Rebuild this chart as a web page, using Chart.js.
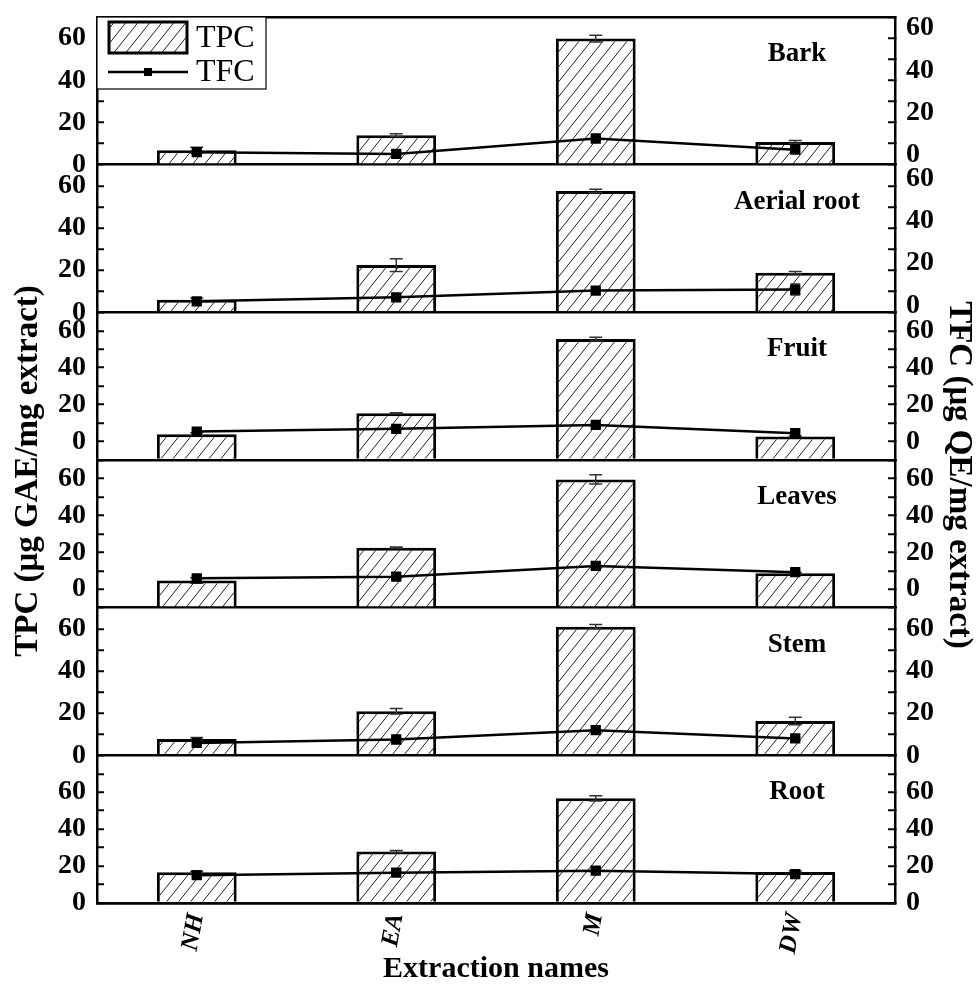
<!DOCTYPE html>
<html>
<head>
<meta charset="utf-8">
<script src="https://cdn.jsdelivr.net/npm/chart.js@4.4.1/dist/chart.umd.min.js"></script>
<style>
  html, body { margin: 0; padding: 0; background: #fff; }
  #wrap { position: relative; width: 976px; height: 984px; }
</style>
</head>
<body>
<div id="wrap"><canvas id="chart" width="976" height="984"></canvas></div>
<script>
// categories and panels (top to bottom)
const categories = ['NH', 'EA', 'M', 'DW'];
const panelNames = ['Bark', 'Aerial root', 'Fruit', 'Leaves', 'Stem', 'Root'];

// TPC, left axis (µg GAE/mg extract)
const tpcBark   = [6.8, 14.0, 59.8, 10.8];
const tpcAerial = [6.0, 22.4, 57.5, 18.8];
const tpcFruit  = [4.0, 15.3, 55.5, 2.7];
const tpcLeaves = [4.7, 22.5, 59.5, 8.6];
const tpcStem   = [7.7, 20.9, 61.0, 16.3];
const tpcRoot   = [16.6, 27.9, 56.7, 16.8];

const tpcErrBark   = [1.4, 0.6, 1.6, 0.6];
const tpcErrAerial = [0.8, 3.0, 0.8, 0.5];
const tpcErrFruit  = [0.8, 0.3, 1.0, 0.3];
const tpcErrLeaves = [1.5, 0.3, 2.5, 0.5];
const tpcErrStem   = [0.8, 1.3, 1.0, 1.8];
const tpcErrRoot   = [0.6, 0.5, 1.4, 0.6];

// TFC, right axis (µg QE/mg extract)
const tfcBark   = [5.9, 5.1, 12.4, 7.1];
const tfcAerial = [5.2, 7.1, 10.3, 10.8];
const tfcFruit  = [5.4, 6.9, 9.0, 4.5];
const tfcLeaves = [5.9, 6.8, 12.6, 9.2];
const tfcStem   = [5.9, 7.5, 11.9, 8.0];
const tfcRoot   = [15.1, 16.4, 17.5, 15.7];

const tfcErrBark   = [0.8, 0.5, 0.8, 0.8];
const tfcErrAerial = [0.7, 0.6, 0.8, 2.6];
const tfcErrFruit  = [0.7, 0.5, 0.8, 0.8];
const tfcErrLeaves = [1.2, 0.5, 1.0, 0.8];
const tfcErrStem   = [1.0, 0.8, 0.8, 0.8];
const tfcErrRoot   = [0.6, 0.6, 0.8, 1.0];

// axis ranges per panel and labelled tick values
const axisMin = [0, 0, -10, -10, 0, 0];
const axisMax = [70, 70, 70, 70, 70, 80];
const tickLabels = [0, 20, 40, 60];

const tpcValues = [tpcBark, tpcAerial, tpcFruit, tpcLeaves, tpcStem, tpcRoot];
const tpcErrors = [tpcErrBark, tpcErrAerial, tpcErrFruit, tpcErrLeaves, tpcErrStem, tpcErrRoot];
const tfcValues = [tfcBark, tfcAerial, tfcFruit, tfcLeaves, tfcStem, tfcRoot];
const tfcErrors = [tfcErrBark, tfcErrAerial, tfcErrFruit, tfcErrLeaves, tfcErrStem, tfcErrRoot];

const serif = "'Liberation Serif', 'Times New Roman', serif";
// right-hand labels sit a little above their ticks in the top two panels
const rightLabelShift = [-10, -7, 0, 0, 0, 0];

const canvas = document.getElementById('chart');
const ctx = canvas.getContext('2d');

function makeHatch() {
    const w = 12, h = 15;
    const tile = document.createElement('canvas');
    tile.width = w;
    tile.height = h;
    const g = tile.getContext('2d');
    g.fillStyle = '#fff';
    g.fillRect(0, 0, w, h);
    g.strokeStyle = '#222';
    g.lineWidth = 1;
    g.beginPath();
    [-w, 0, w].forEach(dx => {
        g.moveTo(dx, h);
        g.lineTo(dx + w, 0);
    });
    g.stroke();
    return ctx.createPattern(tile, 'repeat');
}
const hatch = makeHatch();

// datasets
const datasets = [];
panelNames.forEach((name, i) => {
    datasets.push({
        type: 'bar',
        label: 'TPC ' + name,
        data: tpcValues[i],
        yAxisID: 'L' + i,
        grouped: false,
        base: axisMin[i],
        backgroundColor: hatch,
        borderColor: '#000',
        borderWidth: 3,
        borderSkipped: 'start',
        barPercentage: 0.4,
        categoryPercentage: 1.0,
        order: 2,
        panel: i
    });
});
panelNames.forEach((name, i) => {
    datasets.push({
        type: 'line',
        label: 'TFC ' + name,
        data: tfcValues[i],
        yAxisID: 'R' + i,
        borderColor: '#000',
        borderWidth: 2.5,
        tension: 0,
        fill: false,
        pointStyle: 'rect',
        pointRadius: 5.5,
        pointBackgroundColor: '#000',
        pointBorderColor: '#000',
        order: 0,
        panel: i
    });
});

// scales
function yScale(i, side) {
    const left = side === 'left';
    return {
        type: 'linear',
        position: side,
        stack: side,
        stackWeight: 1,
        min: axisMin[i],
        max: axisMax[i],
        border: { display: true, color: '#000', width: 2.5 },
        grid: {
            drawOnChartArea: left,
            drawTicks: true,
            tickLength: -7,
            tickColor: '#000',
            tickWidth: 2,
            lineWidth: 2.5,
            color: c => {
                if (!left || !c.tick) return 'rgba(0,0,0,0)';
                const v = c.tick.value;
                if (v === axisMin[i]) return '#000';
                if (i === 0 && v === axisMax[i]) return '#000';
                return 'rgba(0,0,0,0)';
            }
        },
        ticks: {
            stepSize: 10,
            autoSkip: false,
            color: '#000',
            padding: 18,
            labelOffset: left ? 0 : rightLabelShift[i],
            font: { family: serif, size: 28, weight: 'bold' },
            callback: v => tickLabels.includes(v) ? String(v) : ''
        },
        afterFit: s => {
            s.width = left ? 97 : 81;
            s.paddingTop = 0;
            s.paddingBottom = 0;
        }
    };
}

const scales = {
    x: {
        type: 'category',
        offset: true,
        border: { display: true, color: '#000', width: 2.5 },
        grid: { display: false, drawTicks: false },
        ticks: {
            color: '#000',
            padding: 8,
            minRotation: 80,
            maxRotation: 80,
            font: { family: serif, size: 25, weight: 'bold', style: 'italic' }
        },
        title: {
            display: true,
            text: 'Extraction names',
            color: '#000',
            padding: { top: 0, bottom: 0 },
            font: { family: serif, size: 30, weight: 'bold', lineHeight: 1 }
        },
        afterFit: s => {
            s.height = 81;
            s.paddingLeft = 0;
            s.paddingRight = 0;
        }
    }
};
// left boxes are laid out in reverse order, so add them bottom panel first
for (let i = panelNames.length - 1; i >= 0; i--) scales['L' + i] = yScale(i, 'left');
for (let i = 0; i < panelNames.length; i++) scales['R' + i] = yScale(i, 'right');

function drawErrorBars(chart, datasetIndex, values, errors, scaleId, cap) {
    const meta = chart.getDatasetMeta(datasetIndex);
    const scale = chart.scales[scaleId];
    const c = chart.ctx;
    c.save();
    c.strokeStyle = '#333';
    c.lineWidth = 1.5;
    meta.data.forEach((el, j) => {
        const x = el.x;
        const yTop = scale.getPixelForValue(values[j] + errors[j]);
        const yBot = scale.getPixelForValue(values[j] - errors[j]);
        c.beginPath();
        c.moveTo(x, yTop);
        c.lineTo(x, yBot);
        c.moveTo(x - cap / 2, yTop);
        c.lineTo(x + cap / 2, yTop);
        c.moveTo(x - cap / 2, yBot);
        c.lineTo(x + cap / 2, yBot);
        c.stroke();
    });
    c.restore();
}

const extras = {
    id: 'extras',
    afterDatasetDraw(chart, args) {
        const ds = chart.data.datasets[args.index];
        if (ds.type !== 'bar') return;
        const i = ds.panel;
        drawErrorBars(chart, args.index, tpcValues[i], tpcErrors[i], 'L' + i, 13);
    },
    beforeDatasetDraw(chart, args) {
        const ds = chart.data.datasets[args.index];
        if (ds.type !== 'line') return;
        const i = ds.panel;
        drawErrorBars(chart, args.index, tfcValues[i], tfcErrors[i], 'R' + i, 10);
    },
    afterDraw(chart) {
        const c = chart.ctx;
        c.save();
        c.fillStyle = '#000';

        // panel names
        c.font = 'bold 27px ' + serif;
        c.textAlign = 'center';
        c.textBaseline = 'middle';
        panelNames.forEach((name, i) => {
            const s = chart.scales['L' + i];
            c.fillText(name, 797, s.top + 37);
        });

        // axis titles
        c.font = 'bold 33px ' + serif;
        c.save();
        c.translate(28, 471);
        c.rotate(-Math.PI / 2);
        c.fillText('TPC (μg GAE/mg extract)', 0, 0);
        c.restore();
        c.save();
        c.translate(959, 475);
        c.rotate(Math.PI / 2);
        c.fillText('TFC (μg QE/mg extract)', 0, 0);
        c.restore();

        // legend
        const lx = chart.chartArea.left, ly = chart.chartArea.top;
        c.fillStyle = '#fff';
        c.fillRect(lx, ly, 169, 72);
        c.strokeStyle = '#000';
        c.lineWidth = 1.2;
        c.strokeRect(lx, ly, 169, 72);
        c.fillStyle = hatch;
        c.fillRect(lx + 12, ly + 5, 78, 31);
        c.lineWidth = 3;
        c.strokeRect(lx + 12, ly + 5, 78, 31);
        c.lineWidth = 2.5;
        c.beginPath();
        c.moveTo(lx + 11, ly + 55);
        c.lineTo(lx + 91, ly + 55);
        c.stroke();
        c.fillStyle = '#000';
        c.fillRect(lx + 47, ly + 51, 8, 8);
        c.font = '32px ' + serif;
        c.textAlign = 'left';
        c.fillText('TPC', lx + 99, ly + 22);
        c.fillText('TFC', lx + 99, ly + 56);
        c.restore();
    }
};

new Chart(ctx, {
    type: 'bar',
    data: { labels: categories, datasets: datasets },
    options: {
        responsive: false,
        animation: false,
        devicePixelRatio: 1,
        layout: { padding: { top: 17, left: 0, right: 0, bottom: 0 } },
        scales: scales,
        plugins: {
            legend: { display: false },
            title: { display: false },
            tooltip: { enabled: false }
        }
    },
    plugins: [extras]
});
</script>
</body>
</html>
